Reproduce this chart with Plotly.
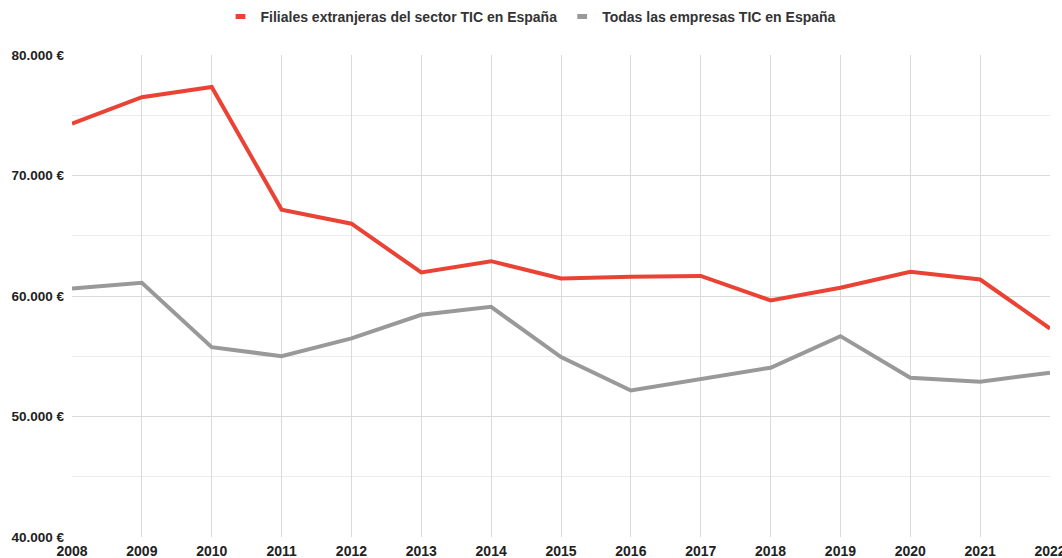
import plotly.graph_objects as go

# Years and average values per series (euros)
years = list(range(2008, 2023))
filiales = [74300, 76500, 77350, 67170, 66000, 61950, 62890, 61450, 61590, 61670,
            59630, 60680, 62010, 61370, 57300]
todas = [60620, 61090, 55750, 55010, 56480, 58440, 59100, 54930, 52160, 53080,
         54050, 56670, 53220, 52890, 53630]
series_names = ["Filiales extranjeras del sector TIC en España",
                "Todas las empresas TIC en España"]
series_colors = ["#ea4335", "#999999"]

FONT = "Liberation Sans, Arial, sans-serif"

fig = go.Figure()
for name, vals, col in zip(series_names, [filiales, todas], series_colors):
    fig.add_trace(go.Scatter(x=years, y=vals, mode="lines", name=name,
                             line=dict(color=col, width=4),
                             showlegend=False, hoverinfo="x+y"))
    # short bar-like legend key
    fig.add_trace(go.Scatter(x=[None], y=[None], mode="markers", name=name,
                             marker=dict(symbol="line-ew", size=7,
                                         line=dict(color=col, width=5))))

fig.update_layout(
    width=1062, height=558,
    margin=dict(l=72, r=12, t=55, b=21),
    paper_bgcolor="white", plot_bgcolor="white",
    separators=",.",
    font=dict(family=FONT, size=14, color="#222222"),
    legend=dict(orientation="h", xref="container", yref="container",
                x=0.5, xanchor="center", y=1 - 17 / 558, yanchor="middle",
                font=dict(family=FONT, size=14, color="#333333", weight="bold"),
                itemwidth=30, bgcolor="rgba(0,0,0,0)"),
)
fig.update_xaxes(range=[2008, 2022], dtick=1, tick0=2008,
                 automargin=False, ticklabeloverflow="allow",
                 showgrid=True, gridcolor="#dadada", gridwidth=1,
                 zeroline=False, showline=False, ticks="",
                 ticklabelstandoff=4,
                 tickfont=dict(family=FONT, size=14, color="#222222", weight="bold"))
fig.update_yaxes(range=[40000, 80000], dtick=10000, tick0=40000,
                 automargin=False, ticklabeloverflow="allow",
                 tickformat=",.0f", ticksuffix=" €",
                 showgrid=True, gridcolor="#dadada", gridwidth=1,
                 minor=dict(dtick=5000, tick0=40000, showgrid=True,
                            gridcolor="#ececec", gridwidth=1),
                 zeroline=False, showline=False, ticks="",
                 ticklabelstandoff=7,
                 tickfont=dict(family=FONT, size=13.5, color="#222222", weight="bold"))

fig.write_html("out.html")
